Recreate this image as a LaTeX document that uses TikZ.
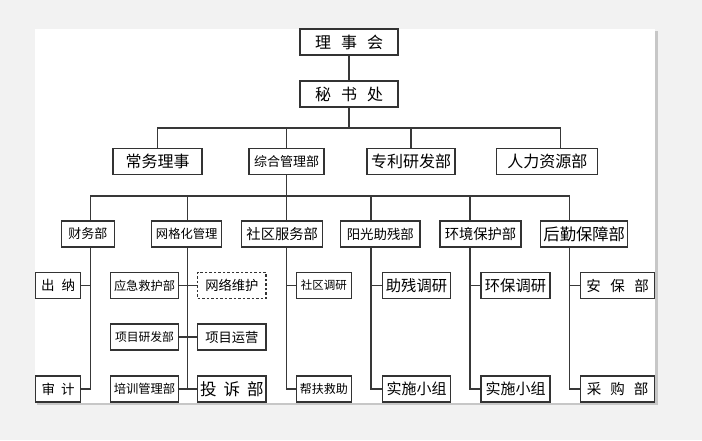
\documentclass[tikz,border=0pt]{standalone}
\usepackage{fontspec}
\newfontfamily\cjk{Noto Sans CJK SC}
\newcommand\csp[1]{\hspace{#1pt}}
\begin{document}
\begin{tikzpicture}[x=1pt,y=-1pt,
  box/.style={draw=black!80, line width=1.1pt, fill=white, inner sep=0pt, minimum height=26pt, text=black},
  dbox/.style={box, dash pattern=on 2.5pt off 2pt},
  fs/.style={font=\cjk\fontsize{#1}{#1}\selectfont},
  conn/.style={draw=black!78, line width=1.2pt}]
\useasboundingbox (0,0) rectangle (702,440);
% background and page
\fill[black!5] (0,0) rectangle (702,440);
\fill[black!22] (37,31) rectangle (657.5,405);
\fill[white] (35,29) rectangle (655,403);

% row 1
\node[box, fs=16, minimum width=98pt] (lsh) at (349,42) {理\csp{10}事\csp{10}会};
\node[box, fs=16, minimum width=98pt] (msc) at (349,94) {秘\csp{10}书\csp{10}处};
% row 2
\node[box, fs=16, minimum width=89pt] (cw) at (157.5,161.5) {常务理事};
\node[box, fs=13, minimum width=75pt] (zh) at (286.5,161.5) {综合管理部};
\node[box, fs=16, minimum width=88pt] (zl) at (411,161.5) {专利研发部};
\node[box, fs=16, minimum width=101pt] (rl) at (547.3,161.5) {人力资源部};
% row 3
\node[box, fs=13, minimum width=52.3pt] (cwb) at (87.9,234) {财务部};
\node[box, fs=12.3, minimum width=70pt] (wg) at (186.7,234) {网格化管理};
\node[box, fs=14.3, minimum width=81pt] (sq) at (282.2,234) {社区服务部};
\node[box, fs=13.4, minimum width=79.3pt] (yg) at (380.3,234) {阳光助残部};
\node[box, fs=14.3, minimum width=81pt] (hj) at (480.5,234) {环境保护部};
\node[box, fs=16.3, minimum width=87pt] (hq) at (584.2,234) {后勤保障部};
% row 4
\node[box, fs=13.5, minimum width=45pt] (cn) at (58.2,285.5) {出\csp{7}纳};
\node[box, fs=13.5, minimum width=45pt] (sj) at (58.2,389) {审\csp{6}计};
\node[box, fs=12.2, minimum width=67.6pt] (yj) at (144.5,285.5) {应急救护部};
\node[box, fs=11.8, minimum width=67.6pt] (xm) at (144.5,337) {项目研发部};
\node[box, fs=12.3, minimum width=67.6pt] (px) at (144.5,389) {培训管理部};
\node[dbox, fs=13.3, minimum width=68.3pt] (wl) at (231.85,285.5) {网络维护};
\node[box, fs=13.3, minimum width=68.3pt] (yy) at (231.85,337) {项目运营};
\node[box, fs=16.5, minimum width=68.3pt] (ts) at (231.85,389) {投\csp{7}诉\csp{7}部};
\node[box, fs=11.5, minimum width=54.3pt] (sd) at (323.9,285.5) {社区调研};
\node[box, fs=12, minimum width=54.3pt] (bf) at (323.9,389) {帮扶救助};
\node[box, fs=15.3, minimum width=68.4pt] (zc) at (416.5,285.5) {助残调研};
\node[box, fs=15, minimum width=68.4pt] (ss1) at (416.5,389) {实施小组};
\node[box, fs=15.3, minimum width=69pt] (hb) at (515.5,285.5) {环保调研};
\node[box, fs=15, minimum width=69pt] (ss2) at (515.5,389) {实施小组};
\node[box, fs=14.5, minimum width=73.8pt] (ab) at (617.6,285.5) {安\csp{9.5}保\csp{9.5}部};
\node[box, fs=14.5, minimum width=73.8pt] (cg) at (617.6,389) {采\csp{9}购\csp{9}部};

% top connectors
\draw[conn] (lsh.south) -- (msc.north);
\coordinate (b1l) at (157.5,128);
\coordinate (b1r) at (560.7,128);
\draw[conn] (cw.north) -- (b1l) -- (b1r) -- (b1r |- rl.north);
\draw[conn] (msc.south) -- (msc.south |- b1l);
\draw[conn] (zh.north) -- (zh.north |- b1l);
\draw[conn] (zl.north) -- (zl.north |- b1l);

% second bus
\coordinate (t1) at (90.7,196);
\coordinate (t2) at (187.7,196);
\coordinate (t3) at (286.7,196);
\coordinate (t4) at (371,196);
\coordinate (t5) at (470,196);
\coordinate (t6) at (569.3,196);
\draw[conn] (zh.south) -- (zh.south |- t1);
\draw[conn] (t1 |- cwb.north) -- (t1) -- (t6) -- (t6 |- hq.north);
\draw[conn] (t2) -- (t2 |- wg.north);
\draw[conn] (t3) -- (t3 |- sq.north);
\draw[conn] (t4) -- (t4 |- yg.north);
\draw[conn] (t5) -- (t5 |- hj.north);

% financial
\draw[conn] (t1 |- cwb.south) |- (sj.east);
\draw[conn] (t1 |- cn.east) -- (cn.east);
% grid management
\draw[conn] (t2 |- wg.south) -- (t2 |- ts.west);
\draw[conn] (yj.east) -- (wl.west);
\draw[conn] (xm.east) -- (yy.west);
\draw[conn] (px.east) -- (ts.west);
% community
\draw[conn] (t3 |- sq.south) |- (bf.west);
\draw[conn] (t3 |- sd.west) -- (sd.west);
% sunshine
\draw[conn] (t4 |- yg.south) |- (ss1.west);
\draw[conn] (t4 |- zc.west) -- (zc.west);
% environment
\draw[conn] (t5 |- hj.south) |- (ss2.west);
\draw[conn] (t5 |- hb.west) -- (hb.west);
% logistics
\draw[conn] (t6 |- hq.south) |- (cg.west);
\draw[conn] (t6 |- ab.west) -- (ab.west);
\end{tikzpicture}
\end{document}
